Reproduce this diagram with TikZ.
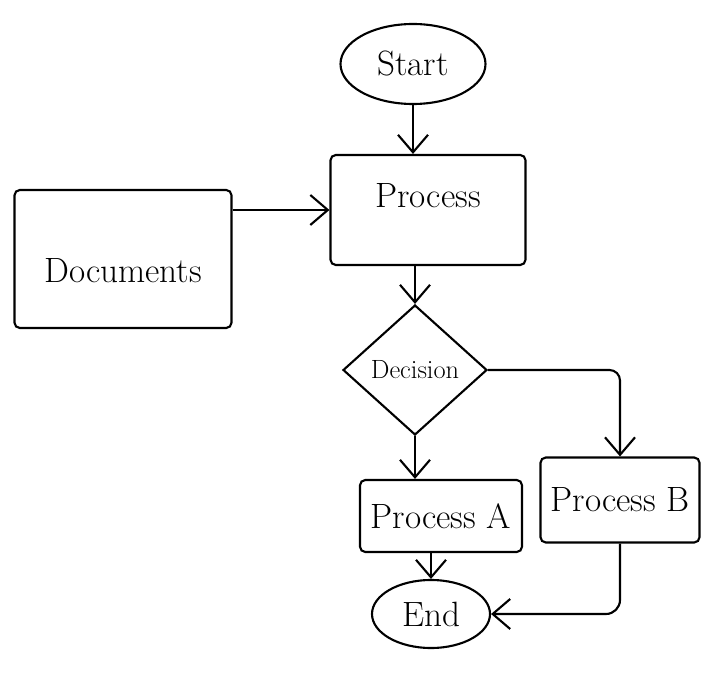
\documentclass[tikz,border=0pt]{standalone}
\usetikzlibrary{shapes.geometric,arrows.meta}

\begin{document}
\begin{tikzpicture}[
          every node/.style={draw, line width=1.2pt, align=center, font=\fontsize{20}{24}\selectfont},
          box/.style={rectangle, rounded corners=3pt},
          term/.style={ellipse},
          choice/.style={diamond, inner sep=0pt, font=\fontsize{15}{18}\selectfont},
          flow/.style={line width=1.2pt, -{Straight Barb[length=3.5mm, width=6mm, line width=1.2pt]}}
        ]
        \useasboundingbox (0,0) rectangle (14.32,-13.46);

        % Nodes
        \node[term, minimum width=2.9cm, minimum height=1.6cm] (start) at (8.26,-1.28) {Start};
        \node[box, minimum width=3.9cm, minimum height=2.2cm] (process) at (8.56,-4.2) {\raisebox{0.05cm}[0pt][0pt]{Process}};
        \node[box, minimum width=4.34cm, minimum height=2.76cm] (doc) at (2.46,-5.18) {\raisebox{-0.47cm}[0pt][0pt]{Documents}};
        \node[choice, minimum width=2.88cm, minimum height=2.6cm] (decision) at (8.3,-7.4) {Decision};
        \node[box, minimum width=3.24cm, minimum height=1.44cm] (pa) at (8.82,-10.32) {Process A};
        \node[box, minimum width=3.18cm, minimum height=1.7cm] (pb) at (12.4,-10.0) {Process B};
        \node[term, minimum width=2.36cm, minimum height=1.36cm] (finish) at (8.62,-12.28) {End};

        % Connectors
        \draw[flow] (start.south) -- (start.south |- process.north);
        \draw[flow] (process.west -| doc.east) -- (process.west);
        \draw[flow] (decision.north |- process.south) -- (decision.north);
        \draw[flow] (decision.south) -- (decision.south |- pa.north);
        \draw[flow, rounded corners=6pt] (decision.east) -| (pb.north);
        \draw[flow] (finish.north |- pa.south) -- (finish.north);
        \draw[flow, rounded corners=8pt] (pb.south) |- (finish.east);

      \end{tikzpicture}
\end{document}
